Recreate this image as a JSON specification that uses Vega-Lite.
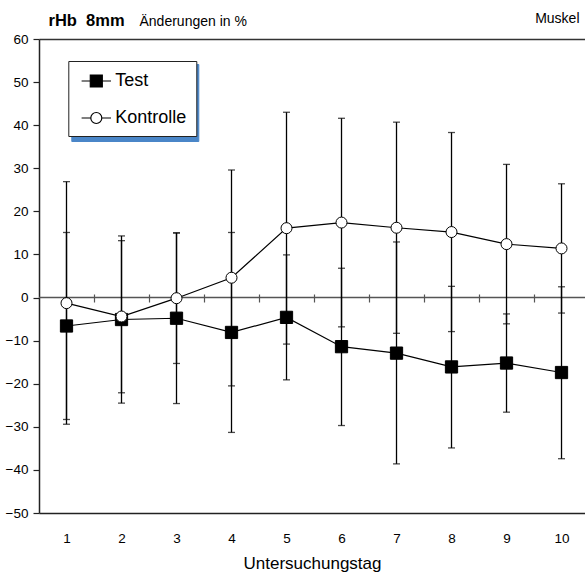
{
  "$schema": "https://vega.github.io/schema/vega-lite/v6.json",
  "autosize": {"type": "none"},
  "padding": {"left": 39, "top": 39, "right": 0, "bottom": 59},
  "width": 546,
  "height": 474,
  "background": "white",
  "config": {"view": {"stroke": null}, "font": "Liberation Sans"},
  "data": {"values": [
    {"day": 1, "group": "Kontrolle", "mean": -1.3, "lo": -29.4, "hi": 26.9},
    {"day": 2, "group": "Kontrolle", "mean": -4.4, "lo": -22.1, "hi": 13.2},
    {"day": 3, "group": "Kontrolle", "mean": -0.15, "lo": -15.3, "hi": 15.0},
    {"day": 4, "group": "Kontrolle", "mean": 4.6, "lo": -20.5, "hi": 29.6},
    {"day": 5, "group": "Kontrolle", "mean": 16.1, "lo": -10.8, "hi": 43.0},
    {"day": 6, "group": "Kontrolle", "mean": 17.4, "lo": -6.8, "hi": 41.6},
    {"day": 7, "group": "Kontrolle", "mean": 16.2, "lo": -8.3, "hi": 40.7},
    {"day": 8, "group": "Kontrolle", "mean": 15.2, "lo": -7.9, "hi": 38.3},
    {"day": 9, "group": "Kontrolle", "mean": 12.4, "lo": -6.1, "hi": 30.9},
    {"day": 10, "group": "Kontrolle", "mean": 11.4, "lo": -3.6, "hi": 26.4},
    {"day": 1, "group": "Test", "mean": -6.6, "lo": -28.3, "hi": 15.1},
    {"day": 2, "group": "Test", "mean": -5.1, "lo": -24.5, "hi": 14.3},
    {"day": 3, "group": "Test", "mean": -4.8, "lo": -24.6, "hi": 15.0},
    {"day": 4, "group": "Test", "mean": -8.1, "lo": -31.3, "hi": 15.1},
    {"day": 5, "group": "Test", "mean": -4.6, "lo": -19.1, "hi": 9.9},
    {"day": 6, "group": "Test", "mean": -11.4, "lo": -29.7, "hi": 6.8},
    {"day": 7, "group": "Test", "mean": -12.9, "lo": -38.6, "hi": 12.9},
    {"day": 8, "group": "Test", "mean": -16.1, "lo": -34.9, "hi": 2.6},
    {"day": 9, "group": "Test", "mean": -15.2, "lo": -26.6, "hi": -3.8},
    {"day": 10, "group": "Test", "mean": -17.4, "lo": -37.4, "hi": 2.5}
  ]},
  "resolve": {"axis": {"x": "independent", "y": "independent"}},
  "layer": [
    {
      "data": {"values": [{"z": 0}]},
      "mark": {"type": "rule", "color": "#555555", "strokeWidth": 1.5},
      "encoding": {
        "y": {"field": "z", "type": "quantitative", "scale": {"domain": [-50, 60], "nice": false, "zero": false}, "axis": null}
      }
    },
    {
      "mark": {"type": "rule", "color": "black", "strokeWidth": 1.3},
      "encoding": {
        "x": {"field": "day", "type": "quantitative", "scale": {"domain": [0.5, 10.427], "nice": false, "zero": false},
          "axis": {"orient": "bottom", "values": [1, 2, 3, 4, 5, 6, 7, 8, 9, 10], "ticks": false, "tickSize": 0, "grid": false,
            "domain": true, "domainColor": "#222222", "domainWidth": 1.5,
            "labelFont": "Liberation Sans", "labelFontSize": 13.5, "labelColor": "black", "labelPadding": 18, "labelFlush": false, "labelOverlap": false,
            "title": "Untersuchungstag", "titleFont": "Liberation Sans", "titleFontSize": 17, "titleFontWeight": "normal", "titleColor": "black",
            "titleX": 273, "titleY": 55, "titleAlign": "center", "titleBaseline": "alphabetic"}},
        "y": {"field": "lo", "type": "quantitative", "scale": {"domain": [-50, 60], "nice": false, "zero": false},
          "axis": {"orient": "left", "values": [-50, -40, -30, -20, -10, 0, 10, 20, 30, 40, 50, 60], "grid": false,
            "tickSize": 6, "tickColor": "#222222", "tickWidth": 1.2, "domain": true, "domainColor": "#222222", "domainWidth": 1.5,
            "labelFont": "Liberation Sans", "labelFontSize": 13.5, "labelColor": "black", "labelPadding": 5, "labelFlush": false, "labelOverlap": false,
            "title": "rHb\u00a0 8mm", "titleFont": "Liberation Sans", "titleFontSize": 16.5, "titleFontWeight": "bold", "titleColor": "black",
            "titleAngle": 0, "titleX": 9, "titleY": -13.7, "titleAlign": "left", "titleBaseline": "alphabetic"}},
        "y2": {"field": "hi"}
      }
    },
    {
      "mark": {"type": "tick", "orient": "horizontal", "color": "black", "size": 7, "thickness": 1.3},
      "encoding": {
        "x": {"field": "day", "type": "quantitative", "scale": {"domain": [0.5, 10.427], "nice": false, "zero": false},
          "axis": {"orient": "top", "ticks": false, "labels": false, "grid": false, "domain": true, "domainColor": "#333333", "domainWidth": 1.5,
            "title": "Änderungen in %", "titleFont": "Liberation Sans", "titleFontSize": 14, "titleFontWeight": "normal", "titleColor": "black",
            "titleX": 100, "titleY": -13.7, "titleAlign": "left", "titleBaseline": "alphabetic"}},
        "y": {"field": "lo", "type": "quantitative", "scale": {"domain": [-50, 60], "nice": false, "zero": false},
          "axis": {"orient": "right", "ticks": false, "labels": false, "grid": false, "domain": false,
            "title": "Muskel", "titleFont": "Liberation Sans", "titleFontSize": 14, "titleFontWeight": "normal", "titleColor": "black",
            "titleAngle": 0, "titleX": -6, "titleY": -16.3, "titleAlign": "right", "titleBaseline": "alphabetic"}}
      }
    },
    {
      "mark": {"type": "tick", "orient": "horizontal", "color": "black", "size": 7, "thickness": 1.3},
      "encoding": {
        "x": {"field": "day", "type": "quantitative", "scale": {"domain": [0.5, 10.427], "nice": false, "zero": false},
          "axis": {"orient": "top", "offset": -263, "values": [1.5, 2.5, 3.5, 4.5, 5.5, 6.5, 7.5, 8.5, 9.5], "labels": false, "grid": false, "domain": false,
            "ticks": true, "tickSize": 8, "tickColor": "#555555", "tickWidth": 1.2, "title": null}},
        "y": {"field": "hi", "type": "quantitative", "scale": {"domain": [-50, 60], "nice": false, "zero": false}, "axis": null}
      }
    },
    {
      "mark": {"type": "line", "color": "black", "strokeWidth": 1.2},
      "encoding": {
        "x": {"field": "day", "type": "quantitative", "axis": null},
        "y": {"field": "mean", "type": "quantitative", "axis": null},
        "detail": {"field": "group"}
      }
    },
    {
      "transform": [{"filter": "datum.group === 'Test'"}],
      "mark": {"type": "point", "shape": "square", "filled": true, "fill": "black", "stroke": "black", "strokeWidth": 1, "size": 150, "opacity": 1},
      "encoding": {
        "x": {"field": "day", "type": "quantitative", "axis": null},
        "y": {"field": "mean", "type": "quantitative", "axis": null}
      }
    },
    {
      "transform": [{"filter": "datum.group === 'Kontrolle'"}],
      "mark": {"type": "point", "shape": "circle", "filled": true, "fill": "white", "stroke": "black", "strokeWidth": 1, "size": 121, "opacity": 1},
      "encoding": {
        "x": {"field": "day", "type": "quantitative", "axis": null},
        "y": {"field": "mean", "type": "quantitative", "axis": null}
      }
    },
    {
      "transform": [{"filter": "false"}],
      "mark": {"type": "point", "filled": true, "opacity": 1},
      "encoding": {
        "color": {"field": "group", "type": "nominal", "scale": {"domain": ["T", "K"], "range": ["#4a86c8", "#4a86c8"]},
          "legend": {"orient": "none", "legendX": 32.3, "legendY": 25, "title": null, "padding": 9, "rowPadding": 17, "zindex": 1,
            "symbolSize": 400, "symbolOffset": 8, "symbolOpacity": 0, "labelOffset": 79,
            "labelExpr": "''",
            "labelFont": "Liberation Sans", "labelFontSize": 18, "labelColor": "rgba(0,0,0,0)",
            "fillColor": "#4a86c8", "strokeColor": "#4a86c8", "cornerRadius": 0}}
      }
    },
    {
      "transform": [{"filter": "false"}],
      "mark": {"type": "point", "filled": true, "opacity": 1},
      "encoding": {
        "shape": {"field": "group", "type": "nominal",
          "scale": {"domain": ["Test", "Kontrolle"], "range": ["M-1.47,0H-0.6M0.6,0H1.47M-0.6,-0.6H0.6V0.6H-0.6Z", "M-1.47,0H-0.55M0.55,0H1.47M-0.55,0A0.55,0.55,0,1,1,0.55,0A0.55,0.55,0,1,1,-0.55,0Z"]},
          "legend": {"orient": "none", "legendX": 29.3, "legendY": 22, "title": null, "padding": 9, "rowPadding": 17, "zindex": 2,
            "symbolSize": 400, "symbolOffset": 8, "symbolStrokeWidth": 1.2,
            "labelOffset": 8, "labelFont": "Liberation Sans", "labelFontSize": 18, "labelColor": "black",
            "fillColor": "white", "strokeColor": "#222222", "cornerRadius": 0}},
        "fill": {"field": "group", "type": "nominal", "scale": {"domain": ["Test", "Kontrolle"], "range": ["black", "white"]},
          "legend": {"orient": "none", "legendX": 29.3, "legendY": 22, "title": null, "padding": 9, "rowPadding": 17, "zindex": 2,
            "symbolSize": 400, "symbolOffset": 8, "symbolStrokeWidth": 1.2,
            "labelOffset": 8, "labelFont": "Liberation Sans", "labelFontSize": 18, "labelColor": "black",
            "fillColor": "white", "strokeColor": "#222222", "cornerRadius": 0}},
        "stroke": {"field": "group", "type": "nominal", "scale": {"domain": ["Test", "Kontrolle"], "range": ["black", "black"]},
          "legend": {"orient": "none", "legendX": 29.3, "legendY": 22, "title": null, "padding": 9, "rowPadding": 17, "zindex": 2,
            "symbolSize": 400, "symbolOffset": 8, "symbolStrokeWidth": 1.2,
            "labelOffset": 8, "labelFont": "Liberation Sans", "labelFontSize": 18, "labelColor": "black",
            "fillColor": "white", "strokeColor": "#222222", "cornerRadius": 0}}
      }
    }
  ]
}
